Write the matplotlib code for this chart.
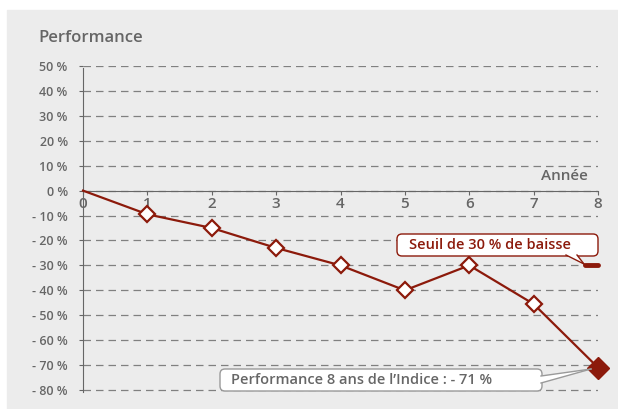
import matplotlib
matplotlib.use('Agg')
import matplotlib.pyplot as plt
from matplotlib.patches import Rectangle, FancyBboxPatch, Polygon

# Data
years = [0, 1, 2, 3, 4, 5, 6, 7, 8]
perf = [0, -9.5, -15, -23, -30, -40, -30, -45.5, -71]
yticks = [50, 40, 30, 20, 10, 0, -10, -20, -30, -40, -50, -60, -70, -80]
threshold = -30

red = '#8c1a0b'
grey = '#666666'
panel = '#ececec'
box_grey = '#9a9a9a'

plt.rcParams['font.family'] = ['Open Sans', 'DejaVu Sans']

W, H = 618, 409
fig = plt.figure(figsize=(W / 100, H / 100), dpi=100)
fig.patches.append(Rectangle((7 / W, 0), 611 / W, 1 - 10 / H,
                             transform=fig.transFigure, color=panel, zorder=-10))

ax = fig.add_axes([83 / W, 1 - 392 / H, 515 / W, 326 / H])
ax.set_facecolor('none')
ax.set_xlim(0, 8)
ax.set_ylim(-80.8, 50)

# spines
for s in ['top', 'right']:
    ax.spines[s].set_visible(False)
ax.spines['bottom'].set_position(('data', 0))
ax.spines['bottom'].set_color(grey)
ax.spines['left'].set_color(grey)
ax.spines['left'].set_bounds(-80.8, 49.3)

ax.set_yticks(yticks)
ax.set_yticklabels([f"{v} %" if v >= 0 else f"- {abs(v)} %" for v in yticks])
ax.set_xticks(years)
ax.set_xticklabels([str(y) for y in years])
ax.tick_params(axis='both', colors=grey, labelcolor=grey, length=3, width=0.8)
ax.tick_params(axis='y', pad=8, labelsize=9)
ax.tick_params(axis='x', pad=1.5, labelsize=11)
for lab in ax.get_xticklabels() + ax.get_yticklabels():
    lab.set_fontweight('semibold')

ax.yaxis.grid(True, linestyle=(0, (6, 4)), color='#808080', linewidth=0.9)
ax.set_axisbelow(True)

# series
ax.plot(years, perf, color=red, linewidth=1.6, zorder=3, clip_on=False)
ax.plot(years[1:-1], perf[1:-1], linestyle='none', marker='D', markersize=8.5,
        markerfacecolor='white', markeredgecolor=red, markeredgewidth=1.6, zorder=4,
        clip_on=False)
ax.plot(years[-1], perf[-1], linestyle='none', marker='D', markersize=11,
        color=red, zorder=4, clip_on=False)

# threshold mark
ax.plot([7.8, 8.0], [threshold, threshold], color=red, linewidth=3.5,
        solid_capstyle='round', zorder=4, clip_on=False)

# titles
fig.text(38 / W, 1 - 38 / H, 'Performance', color=grey, fontsize=12,
         fontweight='semibold', va='center', ha='left')
ax.text(7.85, 5.7, 'Année', color=grey, fontsize=11, fontweight='semibold',
        ha='right', va='center')

# callout boxes drawn in pixel space (inches from the bottom-left corner)
px = fig.dpi_scale_trans


def pt(x, y):
    return (x / 100, (H - y) / 100)


def callout(x0, y0, x1, y1, tail, ec):
    fig.patches.append(FancyBboxPatch(pt(x0, y1), (x1 - x0) / 100, (y1 - y0) / 100,
                                      boxstyle='round,pad=0,rounding_size=0.05',
                                      fc='white', ec=ec, lw=1, transform=px, zorder=5))
    fig.patches.append(Polygon([pt(*p) for p in tail], closed=True, fc='white',
                               ec='none', transform=px, zorder=6))
    for p in (tail[0], tail[-1]):
        fig.lines.append(plt.Line2D(*zip(pt(*p), pt(*tail[1])), color=ec, lw=1,
                                    transform=px, zorder=7))


callout(397, 234, 598, 256, [(566, 255), (584, 264), (577, 255)], red)
fig.text(409 / W, 1 - 245 / H, 'Seuil de 30 % de baisse', color=red, fontsize=10.5,
         fontweight='semibold', ha='left', va='center', zorder=8)

callout(220, 369, 542, 391, [(541, 376), (591, 369), (541, 383)], box_grey)
fig.text(231 / W, 1 - 380 / H, 'Performance 8 ans de l\u2019Indice : - 71 %',
         color=grey, fontsize=10.5, fontweight='semibold', ha='left', va='center',
         zorder=8)

fig.savefig('out.png', dpi=100, facecolor='white')
